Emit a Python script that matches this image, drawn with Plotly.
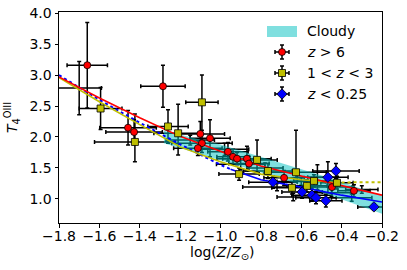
import plotly.graph_objects as go

# ---------------- data ----------------
red_x = [-1.66, -1.285, -1.458, -1.428, -1.10, -1.052, -1.092, -1.112, -0.963, -0.938, -0.918, -0.869, -0.859, -0.685, -0.448, -0.339]
red_y = [3.16, 2.82, 2.15, 2.08, 2.05, 1.98, 1.90, 1.82, 1.76, 1.68, 1.65, 1.65, 1.57, 1.34, 1.19, 1.13]
red_xerr = [0.10, 0.11, 0.14, 0.14, 0.12, 0.10, 0.15, 0.12, 0.10, 0.08, 0.10, 0.12, 0.10, 0.10, 0.10, 0.08]
red_yerr = [0.69, 0.34, 0.28, 0.20, 0.20, 0.30, 0.15, 0.12, 0.15, 0.12, 0.10, 0.20, 0.12, 0.12, 0.10, 0.10]

yel_x = [-1.594, -1.424, -1.26, -1.21, -1.092, -0.819, -0.908, -0.765, -0.626, -0.646, -0.572, -0.537, -0.423]
yel_y = [2.46, 1.92, 2.17, 2.06, 2.56, 1.63, 1.40, 1.45, 1.43, 1.18, 1.21, 1.29, 1.26]
yel_xerr = [0.106, 0.20, 0.10, 0.12, 0.08, 0.10, 0.10, 0.12, 0.15, 0.10, 0.10, 0.10, 0.08]
yel_yerr_hi = [0.34, 0.45, 0.27, 0.47, 0.44, 0.32, 0.10, 0.12, 0.68, 0.10, 0.10, 0.10, 0.10]
yel_yerr_lo = [0.34, 0.32, 0.27, 0.35, 0.45, 0.20, 0.10, 0.12, 0.10, 0.10, 0.10, 0.10, 0.10]

blue_x = [-0.74, -0.596, -0.547, -0.527, -0.478, -0.468, -0.428, -0.24]
blue_y = [1.27, 1.11, 1.06, 1.02, 0.97, 1.35, 1.45, 0.87]
blue_xerr = [0.12, 0.10, 0.10, 0.10, 0.08, 0.10, 0.115, 0.08]
blue_yerr = [0.10, 0.10, 0.10, 0.10, 0.10, 0.25, 0.12, 0.05]

# error bars whose markers are hidden behind others
oth_x = [-1.70, -0.72, -0.64, -0.78, -0.52, -0.98, -1.15, -0.90, -0.60, -0.45, -0.35, -0.30]
oth_y = [2.79, 1.19, 1.03, 1.50, 1.35, 1.80, 1.95, 1.56, 1.28, 1.10, 1.02, 1.15]
oth_xerr = [0.11, 0.17, 0.08, 0.09, 0.10, 0.12, 0.12, 0.12, 0.12, 0.10, 0.10, 0.08]
oth_yerr = [0.43, 0.06, 0.06, 0.08, 0.20, 0.10, 0.08, 0.08, 0.06, 0.06, 0.06, 0.06]

# Cloudy band
band_x = [-1.28, -1.0, -0.7, -0.45, -0.2]
band_hi = [2.10, 1.88, 1.58, 1.33, 1.05]
band_lo = [1.90, 1.62, 1.33, 1.05, 0.76]

# fit curves
red_fit_x = [-1.8, -1.6, -1.4, -1.2, -1.0, -0.8, -0.6, -0.4, -0.2]
red_fit_y = [2.97, 2.63, 2.31, 2.01, 1.77, 1.53, 1.37, 1.21, 1.06]
yel_fit_x = [-1.8, -1.6, -1.4, -1.2, -1.0, -0.8, -0.6, -0.43]
yel_fit_y = [2.96, 2.57, 2.20, 1.84, 1.60, 1.40, 1.31, 1.265]
yel_ext_x = [-0.43, -0.2]
yel_ext_y = [1.265, 1.27]
blue_ext_x = [-1.8, -1.6, -1.4, -1.2, -1.0, -0.95]
blue_ext_y = [3.00, 2.60, 2.23, 1.88, 1.55, 1.48]
blue_fit_x = [-0.95, -0.8, -0.6, -0.4, -0.2]
blue_fit_y = [1.48, 1.31, 1.19, 1.06, 0.95]

x_ticks = [-1.8, -1.6, -1.4, -1.2, -1.0, -0.8, -0.6, -0.4, -0.2]
y_ticks = [1.0, 1.5, 2.0, 2.5, 3.0, 3.5, 4.0]

legend_labels = ["Cloudy", "<i>z</i> > 6", "1 < <i>z</i> < 3", "<i>z</i> < 0.25"]

# ---------------- styles ----------------
RED = "rgb(255,0,0)"
YEL = "rgb(191,191,0)"
BLU = "rgb(0,0,255)"
CYAN = "rgba(0,191,191,0.5)"
FONT = "DejaVu Sans"
FS = 14

L, R, T, B = 59, 25, 12, 47
W, H = 407, 270
PW, PH = W - L - R, H - T - B


def px2paper(px, py):
    return (px - L) / PW, (H - B - py) / PH


fig = go.Figure()


def errbars(x, y, xe, ye_hi, ye_lo=None):
    return go.Scatter(
        x=x, y=y, mode="markers",
        marker=dict(size=1, color="rgba(0,0,0,0)"),
        error_x=dict(type="data", array=xe, color="black", thickness=1.5, width=2),
        error_y=dict(type="data", array=ye_hi, arrayminus=ye_lo if ye_lo is not None else ye_hi,
                     symmetric=ye_lo is None, color="black", thickness=1.5, width=2),
        showlegend=False, hoverinfo="skip",
    )


fig.add_trace(errbars(oth_x, oth_y, oth_xerr, oth_yerr))
fig.add_trace(errbars(red_x, red_y, red_xerr, red_yerr))
fig.add_trace(errbars(yel_x, yel_y, yel_xerr, yel_yerr_hi, yel_yerr_lo))
fig.add_trace(errbars(blue_x, blue_y, blue_xerr, blue_yerr))

# band
fig.add_trace(go.Scatter(x=band_x, y=band_lo, mode="lines", line=dict(width=0, color=CYAN),
                         showlegend=False, hoverinfo="skip"))
fig.add_trace(go.Scatter(x=band_x, y=band_hi, mode="lines", line=dict(width=0, color=CYAN),
                         fill="tonexty", fillcolor=CYAN, showlegend=False, hoverinfo="skip"))

# fit lines
fig.add_trace(go.Scatter(x=blue_ext_x, y=blue_ext_y, mode="lines", line=dict(color=BLU, width=2, dash="dot"), showlegend=False))
fig.add_trace(go.Scatter(x=yel_fit_x, y=yel_fit_y, mode="lines", line=dict(color=YEL, width=1.6), showlegend=False))
fig.add_trace(go.Scatter(x=yel_ext_x, y=yel_ext_y, mode="lines", line=dict(color=YEL, width=2, dash="dot"), showlegend=False))
fig.add_trace(go.Scatter(x=blue_fit_x, y=blue_fit_y, mode="lines", line=dict(color=BLU, width=1.6), showlegend=False))
fig.add_trace(go.Scatter(x=red_fit_x, y=red_fit_y, mode="lines", line=dict(color=RED, width=1.6), showlegend=False))

# markers
fig.add_trace(go.Scatter(x=red_x, y=red_y, mode="markers", showlegend=False,
                         marker=dict(symbol="circle", size=7, color=RED, line=dict(color="black", width=0.8))))
fig.add_trace(go.Scatter(x=yel_x, y=yel_y, mode="markers", showlegend=False,
                         marker=dict(symbol="square", size=7, color=YEL, line=dict(color="black", width=0.8))))
fig.add_trace(go.Scatter(x=blue_x, y=blue_y, mode="markers", showlegend=False,
                         marker=dict(symbol="diamond", size=8, color=BLU, line=dict(color="black", width=0.8))))

# ---------------- manual legend (pixel coordinates on overlay axes) ----------------
leg_px = 282
leg_rows = [31, 52, 73, 94]
leg_colors = [RED, YEL, BLU]
leg_symbols = ["circle", "square", "diamond"]
for i in range(3):
    fig.add_trace(go.Scatter(
        x=[leg_px], y=[leg_rows[i + 1]], xaxis="x2", yaxis="y2", mode="markers", showlegend=False,
        marker=dict(symbol=leg_symbols[i], size=7 if i < 2 else 8, color=leg_colors[i], line=dict(color="black", width=0.8)),
        error_x=dict(type="data", array=[7], color="black", thickness=1.5, width=2),
        error_y=dict(type="data", array=[7], color="black", thickness=1.5, width=2),
        hoverinfo="skip"))

fig.add_shape(type="rect", xref="x2", yref="y2", x0=267, x1=297, y0=26, y1=37,
              fillcolor=CYAN, line=dict(width=0))
for i, lab in enumerate(legend_labels):
    fig.add_annotation(x=305, y=leg_rows[i], xref="x2", yref="y2", text=lab, showarrow=False,
                       xanchor="left", yanchor="middle", font=dict(family=FONT, size=FS, color="black"))

# x-axis title (paper coordinates)
xp, yp = px2paper(222, 253)
fig.add_annotation(x=xp, y=yp, xref="paper", yref="paper", text="log(<i>Z</i>/<i>Z</i><sub>⊙</sub>)",
                   showarrow=False, xanchor="center", yanchor="middle",
                   font=dict(family=FONT, size=FS, color="black"))

axis_common = dict(showgrid=False, zeroline=False, showline=True, linecolor="black", linewidth=1,
                   mirror=True, ticks="outside", ticklen=3.5, tickwidth=1, tickcolor="black",
                   automargin=False,
                   tickfont=dict(family=FONT, size=FS, color="black"), tickformat=".1f")

fig.update_layout(
    template="none",
    width=W, height=H, autosize=False,
    margin=dict(l=L, r=R, t=T, b=B, pad=0, autoexpand=False),
    paper_bgcolor="white", plot_bgcolor="white",
    showlegend=False,
    xaxis=dict(range=[-1.8, -0.2], tickvals=x_ticks, ticklabelstandoff=-3, **axis_common),
    yaxis=dict(range=[0.61, 4.02], tickvals=y_ticks,
               title=dict(text="<i>T</i><sub>4</sub><sup>OIII</sup>", standoff=8,
                          font=dict(family=FONT, size=FS, color="black")),
               **axis_common),
    xaxis2=dict(range=[59, 382], overlaying="x", visible=False, fixedrange=True),
    yaxis2=dict(range=[223, 12], overlaying="y", visible=False, fixedrange=True),
)

fig.write_html("out.html", config={"displayModeBar": False},
               post_script="document.body.style.margin='0';document.body.style.padding='0';")
